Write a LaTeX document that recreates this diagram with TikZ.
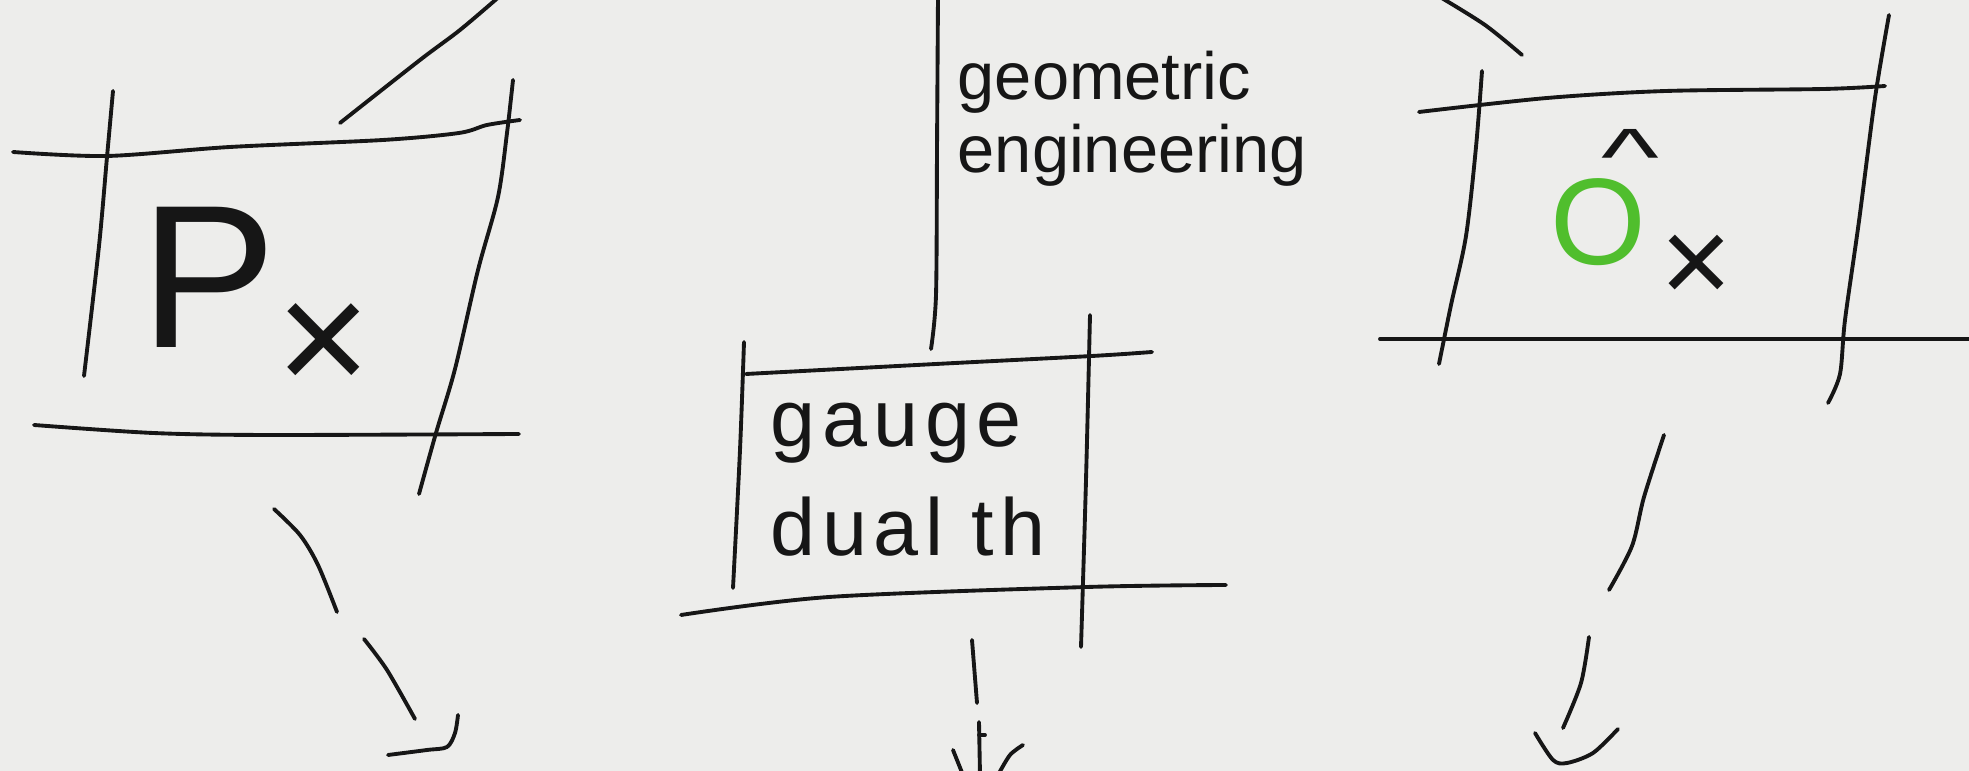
\RequirePackage{fix-cm}
\documentclass[tikz,border=0pt]{standalone}
\usepackage{fontspec}
\setmainfont{Liberation Sans}
\definecolor{paper}{RGB}{237,237,235}
\definecolor{ink}{RGB}{22,22,22}
\definecolor{grn}{RGB}{80,190,45}
\begin{document}
\begin{tikzpicture}[x=0.01cm,y=-0.01cm,
  pen/.style={draw=ink,line width=1.1pt,line cap=round,line join=round},
  txt/.style={inner sep=0pt,text=ink}]
\fill[paper] (0,0) rectangle (1969,771);
\useasboundingbox (0,0) rectangle (1969,771);
\clip (0,0) rectangle (1969,771);

% ---------- left box ----------
\draw[pen] plot[smooth] coordinates {(13,152) (107,156) (230,147) (383,140) (459,133) (487,125) (520,120)};
\draw[pen] plot[smooth] coordinates {(113,91) (107,157) (99,246) (84,376)};
\draw[pen] plot[smooth] coordinates {(513,80) (507,133) (498,197) (478,270) (455,369) (436,433) (419,494)};
\draw[pen] plot[smooth] coordinates {(34,425) (153,433) (268,435) (519,434)};
\draw[pen] plot[smooth] coordinates {(340,123) (420,60) (460,30) (500,-4)};
\node[txt,anchor=base west,font=\fontsize{58}{60}\selectfont] (P) at (140,348)
  {P\raisebox{-13pt}{\fontsize{46}{46}\selectfont ×}};
% dashed arrow down-right
\draw[pen] plot[smooth] coordinates {(274,509) (300,535) (318,565) (337,612)};
\draw[pen] plot[smooth] coordinates {(364,639) (387,670) (415,719)};
\draw[pen] plot[smooth] coordinates {(458,715) (455,733) (447,747) (427,750) (388,755)};

% ---------- centre ----------
\draw[pen] plot[smooth] coordinates {(938,-5) (937,150) (936,295) (931,349)};
\node[txt,anchor=north west,align=left,font=\fontsize{19}{21}\selectfont] (geo) at (957,50)
  {geometric\\engineering};
\draw[pen] plot[smooth] coordinates {(746,374) (936,364) (1092,356) (1152,352)};
\draw[pen] plot[smooth] coordinates {(744,342) (740,450) (733,588)};
\draw[pen] plot[smooth] coordinates {(1090,315) (1086,480) (1081,647)};
\draw[pen] plot[smooth] coordinates {(681,615) (829,597) (1087,587) (1226,585)};
\node[txt,anchor=north west,align=left,font=\fontsize{23}{31}\selectfont\addfontfeature{LetterSpace=8}] (gauge) at (770,402)
  {gauge\\dual th};
% arrow down
\draw[pen] (972,640) -- (977,703);
\draw[pen] (979,722) -- (980,775);
\draw[pen] (979,735) -- (985,735);
\draw[pen] (953,750) -- (963,775);
\draw[pen] plot[smooth] coordinates {(1023,745) (1010,755) (998,775)};

% ---------- right box ----------
\draw[pen] plot[smooth] coordinates {(1440,-3) (1485,25) (1522,55)};
\draw[pen] plot[smooth] coordinates {(1482,71) (1476,147) (1466,236) (1451,305) (1439,364)};
\draw[pen] plot[smooth] coordinates {(1419,112) (1547,98) (1666,91) (1824,89) (1885,86)};
\draw[pen] plot[smooth] coordinates {(1889,15) (1875,98) (1859,221) (1845,320) (1840,374) (1828,403)};
\draw[pen] (1380,339) -- (1975,339);
\node[txt,anchor=base west,font=\fontsize{35}{40}\selectfont] (O) at (1550,265)
  {\rlap{\kern14.5pt\raisebox{23pt}{\scalebox{1}[0.65]{\textasciicircum}}}\textcolor{grn}{O}\kern4pt\raisebox{-11pt}{×}};
% dashed arrow down-left
\draw[pen] plot[smooth] coordinates {(1664,435) (1644,497) (1632,546) (1609,590)};
\draw[pen] plot[smooth] coordinates {(1589,637) (1581,683) (1563,728)};
\draw[pen] plot[smooth] coordinates {(1535,733) (1553,760) (1567,763) (1593,753) (1618,729)};
\end{tikzpicture}
\end{document}
